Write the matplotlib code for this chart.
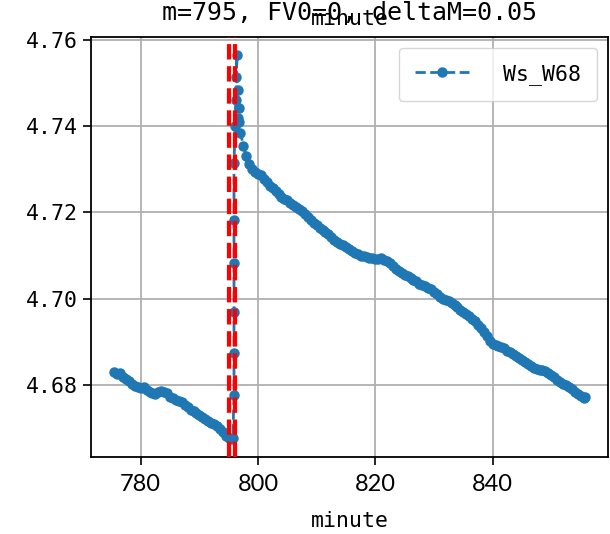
import matplotlib
matplotlib.use("Agg")
import matplotlib.pyplot as plt

plt.rcParams["font.family"] = ["DejaVu Sans Mono"]

SERIES_NAME = "Ws_W68"
TITLE = "m=795, FV0=0, deltaM=0.05"
MARK_LINES = [795, 796]

# minute, value pairs
minutes = [
    # before the jump
    775.5, 776.0, 776.5, 777.0, 777.5, 778.0, 778.5, 779.0, 779.5, 780.0,
    780.5, 781.0, 781.5, 782.0, 782.5, 783.0, 783.5, 784.0, 784.5, 785.0,
    785.5, 786.0, 786.5, 787.0, 787.5, 788.0, 788.5, 789.0, 789.5, 790.0,
    790.5, 791.0, 791.5, 792.0, 792.5, 793.0, 793.5, 794.0, 794.5, 795.0,
    795.4, 795.7,
    # jump
    795.9, 795.9, 795.9, 795.9, 795.9, 795.9, 796.1,
    796.4, 796.3, 796.6, 796.3, 796.8, 796.5, 796.7,
    # decay
    797.0, 797.5, 798.0, 798.5, 799.0, 799.5, 800.0, 800.5, 801.0, 801.5,
    802.0, 802.5, 803.0, 803.5, 804.0, 804.5, 805.0, 805.5, 806.0, 806.5,
    807.0, 807.5, 808.0, 808.5, 809.0, 809.5, 810.0, 810.5, 811.0, 811.5,
    812.0, 812.5, 813.0, 813.5, 814.0, 814.5, 815.0, 815.5, 816.0, 816.5,
    817.0, 817.5, 818.0, 818.5, 819.0, 819.5, 820.0, 820.5, 821.0, 821.5,
    822.0, 822.5, 823.0, 823.5, 824.0, 824.5, 825.0, 825.5, 826.0, 826.5,
    827.0, 827.5, 828.0, 828.5, 829.0, 829.5, 830.0, 830.5, 831.0, 831.5,
    832.0, 832.5, 833.0, 833.5, 834.0, 834.5, 835.0, 835.5, 836.0, 836.5,
    837.0, 837.5, 838.0, 838.5, 839.0, 839.5, 840.0, 840.5, 841.0, 841.5,
    842.0, 842.5, 843.0, 843.5, 844.0, 844.5, 845.0, 845.5, 846.0, 846.5,
    847.0, 847.5, 848.0, 848.5, 849.0, 849.5, 850.0, 850.5, 851.0, 851.5,
    852.0, 852.5, 853.0, 853.5, 854.0, 854.5, 855.0, 855.5, 855.8,
]
values = [
    4.6830, 4.6826, 4.6828, 4.6819, 4.6815, 4.6809, 4.6803, 4.6798, 4.6795, 4.6793,
    4.6795, 4.6789, 4.6784, 4.6781, 4.6780, 4.6785, 4.6786, 4.6785, 4.6781, 4.6772,
    4.6769, 4.6766, 4.6763, 4.6760, 4.6754, 4.6748, 4.6742, 4.6739, 4.6736, 4.6731,
    4.6726, 4.6721, 4.6717, 4.6713, 4.6710, 4.6705, 4.6699, 4.6691, 4.6683, 4.6678,
    4.6676, 4.6677,
    4.6777, 4.6874, 4.6969, 4.7083, 4.7182, 4.7315, 4.7400,
    4.7565, 4.7514, 4.7484, 4.7460, 4.7442, 4.7420, 4.7410,
    4.7385, 4.7355, 4.7330, 4.7312, 4.7300, 4.7293, 4.7290, 4.7286, 4.7278, 4.7270,
    4.7262, 4.7256, 4.7249, 4.7242, 4.7236, 4.7232, 4.7228, 4.7223, 4.7218, 4.7213,
    4.7209, 4.7204, 4.7196, 4.7189, 4.7182, 4.7176, 4.7170, 4.7165, 4.7160, 4.7155,
    4.7149, 4.7143, 4.7137, 4.7132, 4.7128, 4.7125, 4.7120, 4.7115, 4.7111, 4.7107,
    4.7103, 4.7100, 4.7099, 4.7097, 4.7095, 4.7094, 4.7093, 4.7091, 4.7094, 4.7090,
    4.7088, 4.7084, 4.7076, 4.7070, 4.7064, 4.7060, 4.7056, 4.7052, 4.7048, 4.7044,
    4.7040, 4.7035, 4.7032, 4.7030, 4.7026, 4.7022, 4.7016, 4.7010, 4.7004, 4.7000,
    4.6998, 4.6995, 4.6990, 4.6985, 4.6980, 4.6975, 4.6969, 4.6964, 4.6960, 4.6954,
    4.6948, 4.6940, 4.6932, 4.6924, 4.6914, 4.6903, 4.6896, 4.6892, 4.6890, 4.6888,
    4.6885, 4.6880, 4.6876, 4.6872, 4.6867, 4.6862, 4.6857, 4.6853, 4.6848, 4.6843,
    4.6840, 4.6838, 4.6836, 4.6834, 4.6832, 4.6829, 4.6824, 4.6818, 4.6812, 4.6807,
    4.6803, 4.6799, 4.6795, 4.6790, 4.6784, 4.6779, 4.6774, 4.6771, 4.6773,
]

xticks = [780, 800, 820, 840]
yticks = [4.68, 4.70, 4.72, 4.74, 4.76]


def main():
    fig = plt.figure(figsize=(6.1, 5.34), dpi=100)
    ax = fig.add_axes([0.149, 0.144, 0.848, 0.787])

    ax.plot(minutes, values, linestyle="--", marker="o", markersize=6.5,
            linewidth=2, color="#1f77b4", label=SERIES_NAME, zorder=3)
    for m in MARK_LINES:
        ax.axvline(m, color="red", linestyle="--", linewidth=3, zorder=4)

    ax.set_xlim(771.5, 859.7)
    ax.set_ylim(4.6633, 4.7607)
    ax.set_xticks(xticks)
    ax.set_yticks(yticks)
    ax.set_yticklabels([f"{v:.2f}" for v in yticks], fontsize=15.5)
    ax.set_xticklabels([str(v) for v in xticks], family="Lato", fontsize=17)
    ax.tick_params(length=6, width=1.2)
    ax.tick_params(axis="x", pad=6)
    ax.grid(True, color="#b0b0b0", linewidth=1.3)
    for s in ax.spines.values():
        s.set_linewidth(1.3)

    ax.set_xlabel("minute", fontsize=15.5, labelpad=12)
    ax.set_title(TITLE, fontsize=18, pad=12)
    fig.text(0.573, 0.965, "minute", fontsize=15.5, ha="center", va="center")

    ax.legend(loc="upper right", fontsize=15.5, handlelength=2.5,
              handletextpad=1.6, borderpad=0.75, fancybox=True)

    fig.savefig("out.png", dpi=100)
    plt.close(fig)


if __name__ == "__main__":
    main()
